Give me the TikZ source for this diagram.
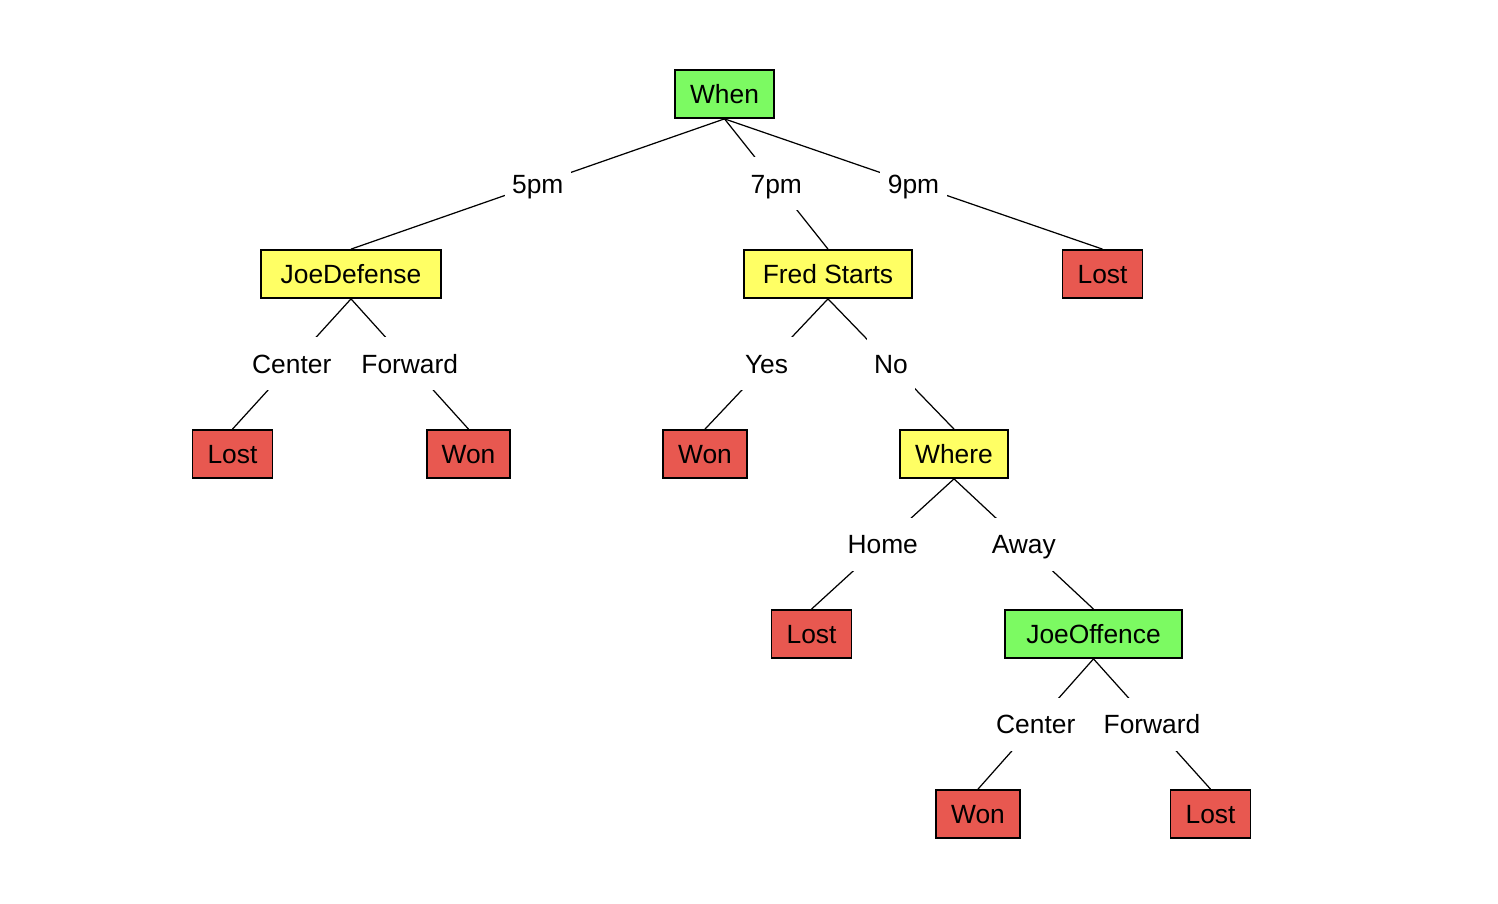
\documentclass[tikz,border=0pt]{standalone}
\usepackage{fontspec}
\setmainfont{Liberation Sans}
\definecolor{nodegreen}{RGB}{124,250,98}
\definecolor{nodeyellow}{RGB}{255,255,100}
\definecolor{leafred}{RGB}{232,88,80}

\begin{document}
\begin{tikzpicture}[node distance=3.6cm, font=\fontsize{15}{18}\selectfont,
  box/.style={draw, rectangle, line width=1pt, minimum height=0.96cm, inner xsep=0.3cm,
    text height=11pt, text depth=0pt},
  rootbox/.style={box, fill=nodegreen},
  testbox/.style={box, fill=nodeyellow},
  leafbox/.style={box, fill=leafred},
  lbl/.style={fill=white, inner xsep=0.15cm, minimum height=1.06cm,
    text height=11pt, text depth=0pt},
  every path/.style={line width=0.7pt}]
\useasboundingbox (0,0) rectangle (29.96,-18.08);

\node[rootbox] (when) at (14.49,-1.88) {When};
\node[testbox, minimum width=3.6cm] (joedef) [below of=when, xshift=-7.47cm] {JoeDefense};
\node[testbox, minimum width=3.36cm] (fred) [below of=when, xshift=2.07cm] {Fred Starts};
\node[leafbox] (lost9) [below of=when, xshift=7.56cm] {Lost};
\node[leafbox] (lostc) [below of=joedef, xshift=-2.37cm] {Lost};
\node[leafbox] (wonf) [below of=joedef, xshift=2.35cm] {Won};
\node[leafbox] (wony) [below of=fred, xshift=-2.46cm] {Won};
\node[testbox, minimum width=2.16cm] (where) [below of=fred, xshift=2.52cm] {Where};
\node[leafbox] (losth) [below of=where, xshift=-2.85cm] {Lost};
\node[rootbox, minimum width=3.54cm] (joeoff) [below of=where, xshift=2.79cm] {JoeOffence};
\node[leafbox] (wonc) [below of=joeoff, xshift=-2.31cm] {Won};
\node[leafbox] (lostf) [below of=joeoff, xshift=2.34cm] {Lost};

\draw (when.south)--node[lbl]{5pm} (joedef.north);
\draw (when.south)--node[lbl]{7pm} (fred.north);
\draw (when.south)--node[lbl]{9pm} (lost9.north);
\draw (joedef.south)--node[lbl]{Center} (lostc.north);
\draw (joedef.south)--node[lbl]{Forward} (wonf.north);
\draw (fred.south)--node[lbl]{Yes} (wony.north);
\draw (fred.south)--node[lbl]{No} (where.north);
\draw (where.south)--node[lbl]{Home} (losth.north);
\draw (where.south)--node[lbl]{Away} (joeoff.north);
\draw (joeoff.south)--node[lbl]{Center} (wonc.north);
\draw (joeoff.south)--node[lbl]{Forward} (lostf.north);
\end{tikzpicture}
\end{document}
